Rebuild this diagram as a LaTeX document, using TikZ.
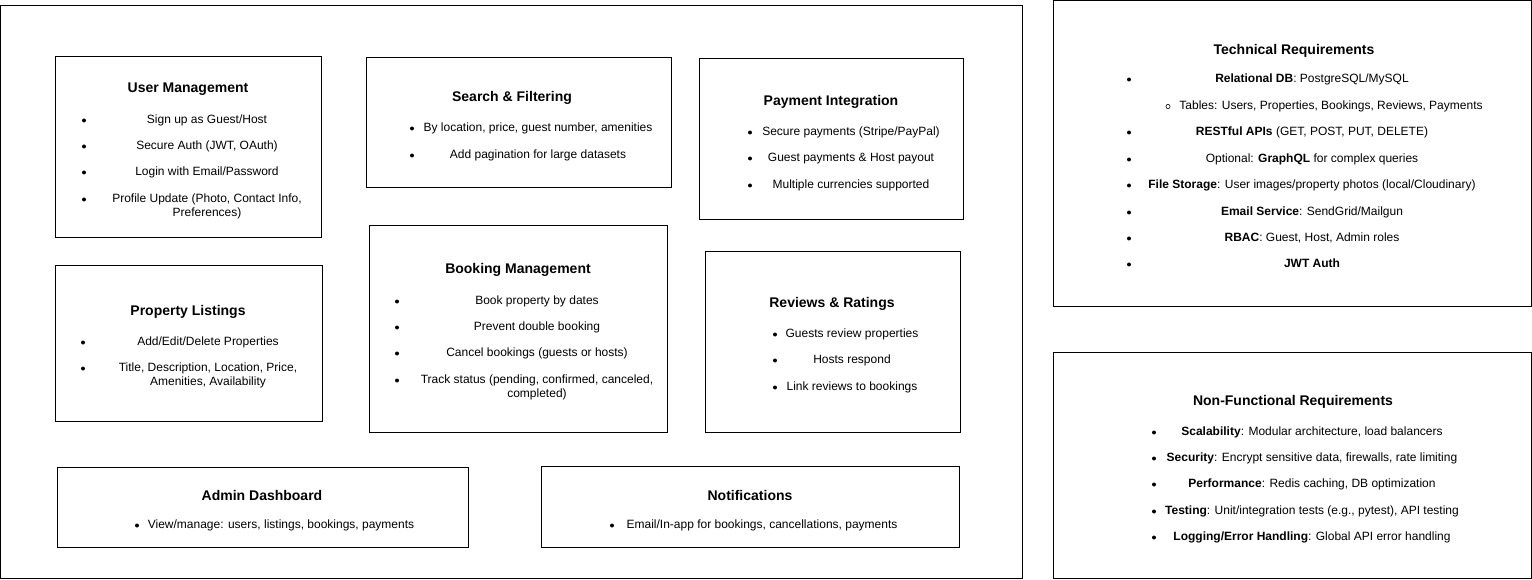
\documentclass[tikz,border=0pt]{standalone}
\usepackage{fontspec}
\setmainfont{Liberation Sans}
\tikzset{
  box/.style={draw, line width=1pt, inner sep=0pt, outer sep=0pt, anchor=north west},
  ttl/.style={font=\fontsize{14}{16}\selectfont\bfseries, inner sep=0pt, yshift=-2pt},
  itm/.style={font=\fontsize{12}{14.5}\selectfont, align=center, inner sep=0pt, text height=8.6pt, text depth=2.5pt, yshift=-2pt},
  itmm/.style={font=\fontsize{12}{14.5}\selectfont, align=center, inner sep=0pt, yshift=-2pt},
  dot/.style={circle, fill, inner sep=0pt, minimum size=4pt, yshift=-2.5pt},
  odot/.style={circle, draw, line width=0.6pt, inner sep=0pt, minimum size=4.2pt, yshift=-2.5pt}
}
\newcommand\li[5]{\node[dot] (#1b) at (#2,#4) {}; \node[itm] (#1) at (#3,#4) {#5};}
\newcommand\lii[5]{\node[dot] (#1b) at (#2,#4) {}; \node[itmm] (#1) at (#3,#4+7.25) {#5};}
\begin{document}
\begin{tikzpicture}[x=1pt,y=-1pt]
\useasboundingbox (0,0) rectangle (1532,580);
% outer frame
\node[box, minimum width=1022pt, minimum height=572pt] (outer) at (0.5,6) {};
% boxes
\node[box, minimum width=266pt, minimum height=181pt] (um) at (55,57) {};
\node[box, minimum width=305pt, minimum height=130pt] (sf) at (366,58) {};
\node[box, minimum width=264pt, minimum height=161pt] (pi) at (699,59) {};
\node[box, minimum width=267pt, minimum height=155pt] (pl) at (55,266) {};
\node[box, minimum width=298pt, minimum height=206pt] (bm) at (369,226) {};
\node[box, minimum width=255pt, minimum height=180pt] (rr) at (705,252) {};
\node[box, minimum width=411pt, minimum height=80pt] (ad) at (57,467) {};
\node[box, minimum width=418pt, minimum height=81pt] (nt) at (541,466) {};
\node[box, minimum width=478pt, minimum height=305pt] (tr) at (1053,1) {};
\node[box, minimum width=478pt, minimum height=226pt] (nf) at (1053,352) {};
% User Management
\node[ttl] (umt) at (188,87) {User Management};
\li{um1}{84}{207}{118}{Sign up as Guest/Host}
\li{um2}{84}{207}{144}{Secure Auth (JWT, OAuth)}
\li{um3}{84}{207}{170}{Login with Email/Password}
\lii{um4}{84}{207}{197}{Profile Update (Photo, Contact Info,\\Preferences)}
% Search & Filtering
\node[ttl] (sft) at (512,96) {Search \& Filtering};
\li{sf1}{412}{538}{126}{By location, price, guest number, amenities}
\li{sf2}{412}{538}{153}{Add pagination for large datasets}
% Payment Integration
\node[ttl] (pit) at (831,100) {Payment Integration};
\li{pi1}{750}{851}{130}{Secure payments (Stripe/PayPal)}
\li{pi2}{750}{851}{156}{Guest payments \& Host payout}
\li{pi3}{750}{851}{183}{Multiple currencies supported}
% Property Listings
\node[ttl] (plt) at (188,310) {Property Listings};
\li{pl1}{83}{208}{340}{Add/Edit/Delete Properties}
\lii{pl2}{83}{208}{366}{Title, Description, Location, Price,\\Amenities, Availability}
% Booking Management
\node[ttl] (bmt) at (518,268) {Booking Management};
\li{bm1}{397}{537}{299}{Book property by dates}
\li{bm2}{397}{537}{325}{Prevent double booking}
\li{bm3}{397}{537}{351}{Cancel bookings (guests or hosts)}
\lii{bm4}{397}{537}{378}{Track status (pending, confirmed, canceled,\\completed)}
% Reviews & Ratings
\node[ttl] (rrt) at (832,302) {Reviews \& Ratings};
\li{rr1}{775}{852}{332}{Guests review properties}
\li{rr2}{775}{852}{358}{Hosts respond}
\li{rr3}{775}{852}{385}{Link reviews to bookings}
% Admin Dashboard
\node[ttl] (adt) at (262,493) {Admin Dashboard};
\li{ad1}{137}{281}{523}{View/manage: users, listings, bookings, payments}
% Notifications
\node[ttl] (ntt) at (750,493) {Notifications};
\li{nt1}{612}{762}{523}{Email/In-app for bookings, cancellations, payments}
% Technical Requirements
\node[ttl] (trt) at (1294,49) {Technical Requirements};
\li{tr1}{1129}{1312}{77}{\textbf{Relational DB}: PostgreSQL/MySQL}
\node[odot] (tr2b) at (1168,104) {};
\node[itm] (tr2) at (1331,104) {Tables: Users, Properties, Bookings, Reviews, Payments};
\li{tr3}{1129}{1312}{130}{\textbf{RESTful APIs} (GET, POST, PUT, DELETE)}
\li{tr4}{1129}{1312}{157}{Optional: \textbf{GraphQL} for complex queries}
\li{tr5}{1129}{1312}{183}{\textbf{File Storage}: User images/property photos (local/Cloudinary)}
\li{tr6}{1129}{1312}{210}{\textbf{Email Service}: SendGrid/Mailgun}
\li{tr7}{1129}{1312}{236}{\textbf{RBAC}: Guest, Host, Admin roles}
\li{tr8}{1129}{1312}{262}{\textbf{JWT Auth}}
% Non-Functional Requirements
\node[ttl] (nft) at (1293,400) {Non-Functional Requirements};
\li{nf1}{1154}{1312}{430}{\textbf{Scalability}: Modular architecture, load balancers}
\li{nf2}{1154}{1312}{456}{\textbf{Security}: Encrypt sensitive data, firewalls, rate limiting}
\li{nf3}{1154}{1312}{482}{\textbf{Performance}: Redis caching, DB optimization}
\li{nf4}{1154}{1312}{509}{\textbf{Testing}: Unit/integration tests (e.g., pytest), API testing}
\li{nf5}{1154}{1312}{535}{\textbf{Logging/Error Handling}: Global API error handling}
\end{tikzpicture}
\end{document}
